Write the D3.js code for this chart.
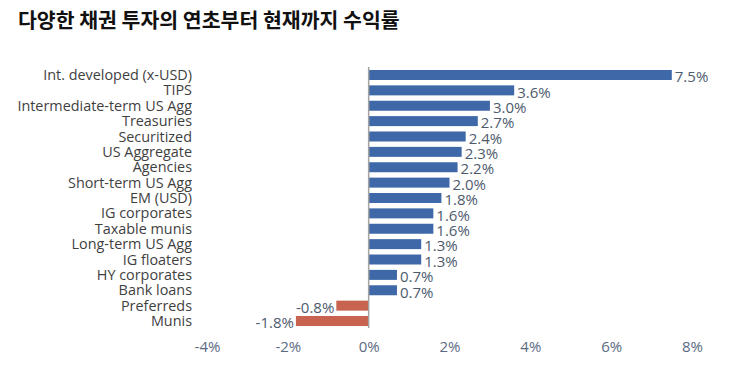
<!DOCTYPE html>
<html>
<head>
<meta charset="utf-8">
<script src="https://cdn.jsdelivr.net/npm/d3@7"></script>
<style>
  body { margin: 0; background: #fff; }
  svg text { font-family: "Open Sans", "Noto Sans", sans-serif; }
</style>
</head>
<body>
<div class="chart"></div>
<script>
const categories = ["Int. developed (x-USD)", "TIPS", "Intermediate-term US Agg", "Treasuries", "Securitized",
    "US Aggregate", "Agencies", "Short-term US Agg", "EM (USD)", "IG corporates", "Taxable munis",
    "Long-term US Agg", "IG floaters", "HY corporates", "Bank loans", "Preferreds", "Munis"];
const returns = [7.5, 3.6, 3.0, 2.7, 2.4, 2.3, 2.2, 2.0, 1.8, 1.6, 1.6, 1.3, 1.3, 0.7, 0.7, -0.8, -1.8];
const xTicks = [-4, -2, 0, 2, 4, 6, 8];
const title = "다양한 채권 투자의 연초부터 현재까지 수익률";

const width = 731;
const height = 372;

const svg = d3.select(".chart")
    .append("svg")
    .attr("width", width)
    .attr("height", height);

svg.append("text")
    .attr("x", 18)
    .attr("y", 28)
    .style("font-family", "'Noto Sans CJK KR', sans-serif")
    .style("font-size", "20.5px")
    .style("font-weight", "bold")
    .attr("fill", "#111")
    .text(title);

const data = categories.map((c, i) => ({name: c, value: returns[i]}));

const x = d3.scaleLinear()
    .domain([-4, 8])
    .range([207, 692]);

const y = d3.scaleBand()
    .domain(categories)
    .range([67.3, 328.7])
    .paddingInner(0.35)
    .paddingOuter(0.175);

// bars
svg.append("g")
    .selectAll("rect")
    .data(data)
    .enter()
    .append("rect")
    .attr("x", d => x(Math.min(0, d.value)))
    .attr("y", d => y(d.name))
    .attr("width", d => Math.abs(x(d.value) - x(0)))
    .attr("height", y.bandwidth())
    .attr("fill", d => d.value < 0 ? "#c7634f" : "#3e68a8");

// zero line
svg.append("line")
    .attr("x1", x(0)).attr("x2", x(0))
    .attr("y1", 67).attr("y2", 328)
    .attr("stroke", "#a3a3a3")
    .attr("stroke-width", 1.5);

// category labels
svg.append("g")
    .selectAll("text")
    .data(data)
    .enter()
    .append("text")
    .attr("x", 192)
    .attr("y", d => y(d.name) + y.bandwidth() / 2)
    .attr("dy", "0.35em")
    .attr("text-anchor", "end")
    .style("font-size", "14.4px")
    .attr("fill", "#3f3f3f")
    .text(d => d.name);

// value labels
svg.append("g")
    .selectAll("text")
    .data(data)
    .enter()
    .append("text")
    .attr("x", d => d.value < 0 ? x(d.value) - 2 : x(d.value) + 3)
    .attr("y", d => y(d.name) + y.bandwidth() / 2 + 2)
    .attr("dy", "0.35em")
    .attr("text-anchor", d => d.value < 0 ? "end" : "start")
    .style("font-size", "15px")
    .attr("fill", "#4e5b6e")
    .text(d => d.value.toFixed(1) + "%");

// x axis
const xAxis = svg.append("g")
    .attr("transform", "translate(0, 347)")
    .call(d3.axisBottom(x).tickValues(xTicks).tickFormat(d => d + "%").tickSize(0).tickPadding(0));
xAxis.select(".domain").remove();
xAxis.selectAll("text")
    .attr("dy", "0.35em")
    .style("font-size", "15px")
    .style("font-family", "'Open Sans', sans-serif")
    .attr("fill", "#5b6b82");
</script>
</body>
</html>
